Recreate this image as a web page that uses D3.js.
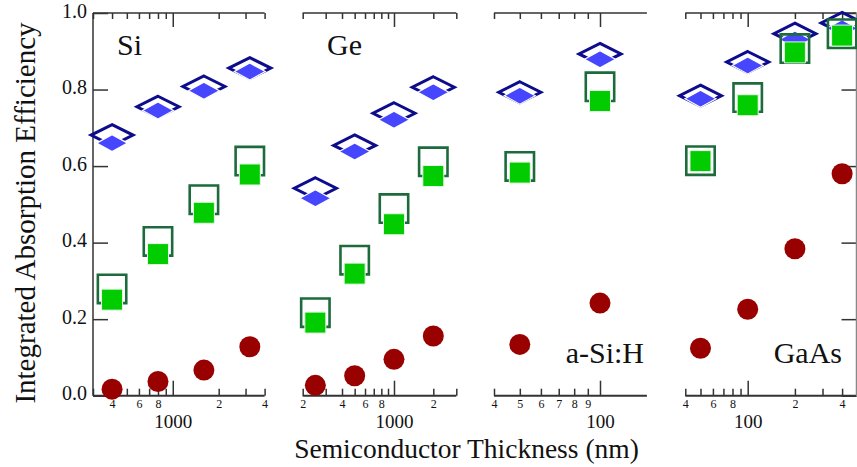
<!DOCTYPE html>
<html>
<head>
<meta charset="utf-8">
<script src="https://cdn.jsdelivr.net/npm/d3@7"></script>
<style>
  html, body { margin: 0; padding: 0; background: #fff; }
  svg { display: block; }
</style>
</head>
<body>
<svg id="chart" width="857" height="467"></svg>
<script>
// ---------------- DATA ----------------
const panelNames = ["Si", "Ge", "a-Si:H", "GaAs"];

const siThickness      = [400, 800, 1600, 3200];
const siOpenDiamond    = [0.681, 0.755, 0.808, 0.856];
const siFilledDiamond  = [0.660, 0.745, 0.797, 0.847];
const siOpenSquare     = [0.279, 0.403, 0.512, 0.613];
const siFilledSquare   = [0.251, 0.370, 0.478, 0.578];
const siCircle         = [0.017, 0.037, 0.067, 0.128];

const geThickness      = [250, 500, 1000, 2000];
const geOpenDiamond    = [0.542, 0.654, 0.738, 0.806];
const geFilledDiamond  = [0.516, 0.638, 0.721, 0.793];
const geOpenSquare     = [0.217, 0.354, 0.489, 0.611];
const geFilledSquare   = [0.191, 0.319, 0.448, 0.574];
const geCircle         = [0.027, 0.052, 0.095, 0.156];

const asiThickness     = [50, 100];
const asiOpenDiamond   = [0.793, 0.893];
const asiFilledDiamond = [0.784, 0.879];
const asiOpenSquare    = [0.599, 0.807];
const asiFilledSquare  = [0.583, 0.770];
const asiCircle        = [0.134, 0.242];

const gaasThickness     = [50, 100, 200, 400];
const gaasOpenDiamond   = [0.784, 0.872, 0.946, 0.974];
const gaasFilledDiamond = [0.776, 0.863, 0.931, 0.960];
const gaasOpenSquare    = [0.614, 0.779, 0.907, 0.946];
const gaasFilledSquare  = [0.613, 0.759, 0.897, 0.941];
const gaasCircle        = [0.124, 0.226, 0.384, 0.580];

// axis ticks and labels
const siDomain   = [300, 4000];
const siTicks    = [300, 400, 500, 600, 700, 800, 900, 1000, 2000, 3000, 4000];
const siLabels   = ["", "4", "", "6", "", "8", "", "1000", "2", "", "4"];
const geDomain   = [200, 3000];
const geTicks    = [200, 300, 400, 500, 600, 700, 800, 900, 1000, 2000, 3000];
const geLabels   = ["2", "", "4", "", "6", "", "8", "", "1000", "2", ""];
const asiDomain  = [40, 150];
const asiTicks   = [40, 50, 60, 70, 80, 90, 100];
const asiLabels  = ["4", "5", "6", "7", "8", "9", "100"];
const gaasDomain = [40, 500];
const gaasTicks  = [40, 50, 60, 70, 80, 90, 100, 200, 300, 400];
const gaasLabels = ["4", "", "6", "", "8", "", "100", "2", "", "4"];
const majorTicks = [100, 1000];

const yTicks = [0, 0.2, 0.4, 0.6, 0.8, 1.0];
const yTitle = "Integrated Absorption Efficiency";
const xTitle = "Semiconductor Thickness (nm)";

// ---------------- LAYOUT ----------------
const FONT = '"Liberation Serif"';
const svg = d3.select("#chart");
const yTop = 13, yBot = 395.7;
const y = d3.scaleLinear().domain([0, 1]).range([yBot, yTop]);
const axisColor = "#333";

const panels = [
  { name: panelNames[0], domain: siDomain, range: [93, 264.6], ticks: siTicks, labels: siLabels,
    t: siThickness, od: siOpenDiamond, fd: siFilledDiamond, os: siOpenSquare, fs: siFilledSquare, c: siCircle,
    label: { x: 117, y: 55, anchor: "start" } },
  { name: panelNames[1], domain: geDomain, range: [302.7, 456.3], ticks: geTicks, labels: geLabels,
    t: geThickness, od: geOpenDiamond, fd: geFilledDiamond, os: geOpenSquare, fs: geFilledSquare, c: geCircle,
    label: { x: 327, y: 55, anchor: "start" } },
  { name: panelNames[2], domain: asiDomain, range: [494, 646.9], ticks: asiTicks, labels: asiLabels,
    t: asiThickness, od: asiOpenDiamond, fd: asiFilledDiamond, os: asiOpenSquare, fs: asiFilledSquare, c: asiCircle,
    label: { x: 644, y: 363, anchor: "end" } },
  { name: panelNames[3], domain: gaasDomain, range: [685.3, 857.3], ticks: gaasTicks, labels: gaasLabels,
    t: gaasThickness, od: gaasOpenDiamond, fd: gaasFilledDiamond, os: gaasOpenSquare, fs: gaasFilledSquare, c: gaasCircle,
    label: { x: 842, y: 363, anchor: "end" } }
];

function diamondPath(hw, hh) {
  const p = d3.path();
  p.moveTo(0, -hh); p.lineTo(hw, 0); p.lineTo(0, hh); p.lineTo(-hw, 0); p.closePath();
  return p.toString();
}
function squarePath(h) {
  const p = d3.path();
  p.rect(-h, -h, 2 * h, 2 * h);
  return p.toString();
}

panels.forEach((P, pi) => {
  const x = d3.scaleLog().domain(P.domain).range(P.range);
  const g = svg.append("g");
  const x0 = P.range[0], x1 = Math.min(P.range[1], 856.5);

  // bottom axis
  const bAxis = d3.axisBottom(x).tickValues(P.ticks).tickSize(-7).tickPadding(0)
    .tickFormat((d, i) => P.labels[i]);
  const gb = g.append("g").attr("transform", `translate(0,${yBot})`).call(bAxis)
    .attr("font-family", FONT);
  gb.select(".domain").remove();
  gb.selectAll(".tick line")
    .attr("stroke", axisColor).attr("stroke-width", 1.5)
    .attr("y2", d => majorTicks.includes(d) ? -15 : -7);
  gb.selectAll(".tick text")
    .attr("dy", null)
    .attr("font-family", FONT)
    .attr("y", d => majorTicks.includes(d) ? 32.5 : 12)
    .attr("font-size", d => majorTicks.includes(d) ? 19 : 12)
    .attr("fill", "#111");
  g.append("line").attr("x1", x0).attr("x2", x1).attr("y1", yBot).attr("y2", yBot)
    .attr("stroke", axisColor).attr("stroke-width", 2);

  // top axis
  const tAxis = d3.axisTop(x).tickValues(P.ticks).tickSize(-6).tickFormat("");
  const gt = g.append("g").attr("transform", `translate(0,${yTop})`).call(tAxis);
  gt.select(".domain").remove();
  gt.selectAll(".tick line")
    .attr("stroke", axisColor).attr("stroke-width", 1.5)
    .attr("y2", d => majorTicks.includes(d) ? 14 : 6);
  g.append("line").attr("x1", x0).attr("x2", x1).attr("y1", yTop).attr("y2", yTop)
    .attr("stroke", axisColor).attr("stroke-width", 1.5);

  // left axis on first panel
  if (pi === 0) {
    const lAxis = d3.axisLeft(y).tickValues(yTicks).tickSize(-15).tickPadding(6)
      .tickFormat(d3.format(".1f"));
    const gl = g.append("g").attr("transform", `translate(${x0},0)`).call(lAxis)
      .attr("font-family", FONT);
    gl.select(".domain").remove();
    gl.selectAll(".tick line").attr("stroke", axisColor).attr("stroke-width", 1.5);
    gl.selectAll(".tick text")
      .attr("dy", "0.2em")
      .attr("font-family", FONT)
      .attr("font-size", 20).attr("fill", "#111");
    g.append("line").attr("x1", x0).attr("x2", x0).attr("y1", yTop).attr("y2", yBot)
      .attr("stroke", axisColor).attr("stroke-width", 1.5);
  }
  // right axis on last panel
  if (pi === panels.length - 1) {
    const rAxis = d3.axisRight(y).tickValues(yTicks).tickSize(-15).tickFormat("");
    const gr = g.append("g").attr("transform", `translate(${x1},0)`).call(rAxis);
    gr.select(".domain").remove();
    gr.selectAll(".tick line").attr("stroke", axisColor).attr("stroke-width", 1.5);
    g.append("line").attr("x1", x1).attr("x2", x1).attr("y1", yTop).attr("y2", yBot)
      .attr("stroke", "#888").attr("stroke-width", 1.5);
  }

  // marks
  const idx = d3.range(P.t.length);
  g.append("g").selectAll("path").data(idx).join("path")
    .attr("d", diamondPath(21, 10.5))
    .attr("transform", i => `translate(${x(P.t[i])},${y(P.od[i])})`)
    .attr("fill", "none").attr("stroke", "#0c0c8c").attr("stroke-width", 3);
  g.append("g").selectAll("path").data(idx).join("path")
    .attr("d", diamondPath(15.5, 8.5))
    .attr("transform", i => `translate(${x(P.t[i])},${y(P.fd[i])})`)
    .attr("fill", "#4646ff").attr("stroke", "#fff").attr("stroke-width", 1.2);
  g.append("g").selectAll("path").data(idx).join("path")
    .attr("d", squarePath(14.2))
    .attr("transform", i => `translate(${x(P.t[i])},${y(P.os[i])})`)
    .attr("fill", "none").attr("stroke", "#1d6b3d").attr("stroke-width", 2.6);
  g.append("g").selectAll("path").data(idx).join("path")
    .attr("d", squarePath(10.5))
    .attr("transform", i => `translate(${x(P.t[i])},${y(P.fs[i])})`)
    .attr("fill", "#00cc00").attr("stroke", "#e6f7e6").attr("stroke-width", 1);
  g.append("g").selectAll("circle").data(idx).join("circle")
    .attr("cx", i => x(P.t[i])).attr("cy", i => y(P.c[i])).attr("r", 10.5)
    .attr("fill", "#990000");

  // panel label
  g.append("text").attr("x", P.label.x).attr("y", P.label.y)
    .attr("text-anchor", P.label.anchor)
    .attr("font-family", FONT).attr("fill", "#111")
    .attr("font-size", 30).text(P.name);
});

// axis titles
svg.append("text")
  .attr("transform", `translate(35,${213}) rotate(-90)`)
  .attr("text-anchor", "middle")
  .attr("font-family", FONT).attr("fill", "#111")
  .attr("font-size", 29)
  .text(yTitle);
svg.append("text")
  .attr("x", 466.5).attr("y", 458)
  .attr("text-anchor", "middle")
  .attr("font-family", FONT).attr("fill", "#111")
  .attr("font-size", 27.5)
  .text(xTitle);
</script>
</body>
</html>
